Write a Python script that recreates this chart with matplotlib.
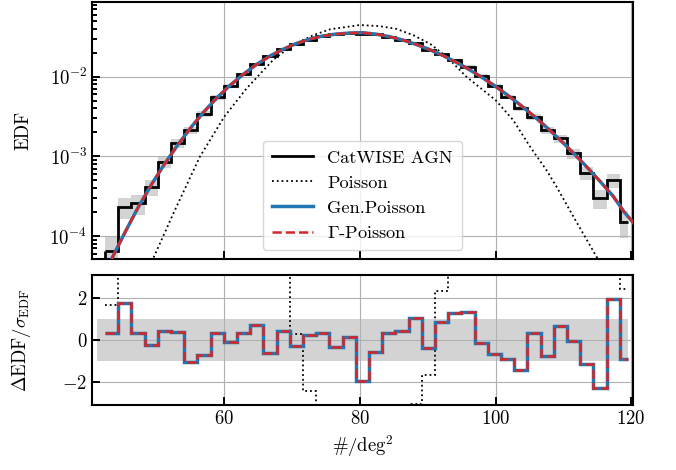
import matplotlib
matplotlib.use("Agg")
import matplotlib.pyplot as plt
import numpy as np

plt.rcParams['font.family'] = 'serif'
plt.rcParams['font.serif'] = ['cmr10']
plt.rcParams['mathtext.fontset'] = 'cm'
plt.rcParams['axes.formatter.use_mathtext'] = True
plt.rcParams['axes.unicode_minus'] = False
plt.rcParams['font.size'] = 13.5

# bins in #/deg^2 (40 bins, last one is narrower)
bin_lo, bin_w, bin_hi = 42.4, 1.947, 119.6

# CatWISE AGN EDF per bin and its 1-sigma error
edf = [6.4e-5, 2.33e-4, 2.57e-4, 4.08e-4, 8.57e-4, 1.46e-3, 2.14e-3, 3.40e-3,
       5.51e-3, 7.64e-3, 1.08e-2, 1.445e-2, 1.82e-2, 2.21e-2, 2.57e-2, 2.89e-2,
       3.24e-2, 3.40e-2, 3.51e-2, 3.40e-2, 3.40e-2, 3.18e-2, 2.89e-2, 2.62e-2,
       2.16e-2, 1.93e-2, 1.62e-2, 1.336e-2, 1.02e-2, 7.64e-3, 5.61e-3, 4.01e-3,
       3.15e-3, 2.14e-3, 1.68e-3, 1.09e-3, 6.12e-4, 2.97e-4, 5.05e-4, 1.51e-4]
edf_err = [3.7e-5, 7.0e-5, 7.4e-5, 9.3e-5, 1.35e-4, 1.76e-4, 2.13e-4, 2.69e-4,
           3.42e-4, 4.03e-4, 4.8e-4, 5.5e-4, 6.2e-4, 6.9e-4, 7.4e-4, 7.8e-4,
           8.3e-4, 8.5e-4, 8.6e-4, 8.5e-4, 8.5e-4, 8.2e-4, 7.8e-4, 7.5e-4,
           6.8e-4, 6.4e-4, 5.9e-4, 5.3e-4, 4.7e-4, 4.0e-4, 3.45e-4, 2.9e-4,
           2.6e-4, 2.13e-4, 1.9e-4, 1.52e-4, 1.14e-4, 7.9e-5, 1.04e-4, 5.7e-5]

# Gen.Poisson / Gamma-Poisson fit (log10 EDF at bin centres, plus one point past the edge)
model_log = [-4.29, -3.96, -3.645, -3.36, -3.10, -2.86, -2.64, -2.44, -2.262, -2.105,
             -1.967, -1.845, -1.74, -1.655, -1.583, -1.528, -1.489, -1.465, -1.452, -1.447,
             -1.465, -1.495, -1.537, -1.59, -1.653, -1.726, -1.809, -1.901, -2.002, -2.112,
             -2.231, -2.359, -2.496, -2.642, -2.797, -2.961, -3.133, -3.313, -3.501, -3.697,
             -3.85]
model_x_end = 120.5

# Poisson curve
poisson_x = [49.0, 52.5, 56.4, 60.0, 63.3, 67.2, 69.75, 73.2, 75.6, 80.0, 82.9, 85.4,
             87.9, 90.4, 92.8, 95.7, 100.0, 102.6, 105.1, 107.5, 109.0, 111.5, 114.9, 115.8]
poisson_log = [-4.38, -3.715, -3.004, -2.502, -2.146, -1.79, -1.623, -1.476, -1.405, -1.351,
               -1.365, -1.40, -1.48, -1.59, -1.749, -2.0, -2.293, -2.544, -2.879, -3.171,
               -3.381, -3.758, -4.26, -4.40]

# residuals (EDF - model) / sigma
resid_gp = [0.35, 1.76, 0.35, -0.24, 0.43, 0.40, -1.04, -0.72, 0.32, -0.08,
            0.35, 0.72, -0.64, 0.43, -0.27, 0.24, 0.32, -0.32, 0.16, -1.97,
            -0.59, 0.32, 0.43, 1.04, -0.37, 0.88, 1.28, 1.36, -0.16, -0.67,
            -0.93, -1.44, 0.32, -0.75, 0.69, -0.05, -1.17, -2.32, 1.95, -0.91]
resid_poisson = [1.68, 5, 8, 8, 8, 8, 8, 8, 8, 8,
                 8, 8, 8, 8, 0.3, -2.45, -6, -8, -8, -8,
                 -8, -6, -4, -3.05, -1.66, 2.34, 5, 8, 8, 8,
                 8, 8, 8, 8, 8, 8, 8, 6, 5, 2.45]

edf = np.array(edf)
edf_err = np.array(edf_err)
edges = np.append(bin_lo + bin_w * np.arange(len(edf)), bin_hi)
centres = 0.5 * (edges[:-1] + edges[1:])
model_x = np.append(centres, model_x_end)
model = 10 ** np.array(model_log)
poisson = 10 ** np.array(poisson_log)

xlim = (40.53, 120.32)
ylim_top = (5.1e-5, 0.0879)

fig = plt.figure(figsize=(6.76, 4.70), dpi=100)
ax1 = fig.add_axes([0.1365, 0.4483, 0.8003, 0.5485])
ax2 = fig.add_axes([0.1365, 0.1383, 0.8003, 0.2766])

# top panel
ax1.stairs(edf + edf_err, edges, baseline=edf - edf_err, fill=True,
           color='lightgray', lw=0, zorder=1)
ax1.stairs(edf, edges, baseline=None, color='k', lw=2, zorder=3, label='CatWISE AGN')
ax1.vlines(edges[0], ylim_top[0] / 10, edf[0], color='k', lw=2, zorder=3)
ax1.plot(poisson_x, poisson, color='k', ls=':', lw=1.3, zorder=3, label='Poisson')
ax1.plot(model_x, model, color='tab:blue', lw=2.5, zorder=4, label='Gen.Poisson')
ax1.plot(model_x, model, color='tab:red', ls='--', lw=1.8, zorder=5, label=r'$\Gamma$-Poisson')
ax1.set_yscale('log')
ax1.set_xlim(xlim)
ax1.set_ylim(ylim_top)
ax1.set_ylabel('EDF')
ax1.tick_params(labelbottom=False)
ax1.legend(loc='lower left', bbox_to_anchor=(0.299, 0.0), handlelength=2.2,
           labelspacing=0.5, borderpad=0.5, fontsize=13.2)

# bottom panel
ax2.fill_between([41.3, bin_hi], -1, 1, color='lightgray', lw=0, zorder=0)
ax2.stairs(resid_poisson, edges, baseline=None, color='k', ls=':', lw=1.3, zorder=3)
ax2.stairs(resid_gp, edges, baseline=None, color='tab:blue', lw=2.5, zorder=4)
ax2.stairs(resid_gp, edges, baseline=None, color='tab:red', ls='--', lw=1.8, zorder=5)
ax2.set_xlim(xlim)
ax2.set_ylim(-3.12, 3.12)
ax2.set_yticks([-2, 0, 2])
ax2.set_xlabel(r'$\#/\mathrm{deg}^2$')
ax2.set_ylabel(r'$\Delta\mathrm{EDF}/\sigma_{\mathrm{EDF}}$')

for ax in (ax1, ax2):
    ax.set_xticks([60, 80, 100, 120])
    ax.grid(True, color='#b0b0b0', lw=0.8)
    ax.tick_params(which='both', direction='in', width=1.4)
    ax.tick_params(which='major', length=6)
    ax.tick_params(which='minor', length=3.5)
    for s in ax.spines.values():
        s.set_linewidth(1.5)
    ax.yaxis.set_label_coords(-0.11, 0.5)

fig.savefig('out.png', dpi=100)
